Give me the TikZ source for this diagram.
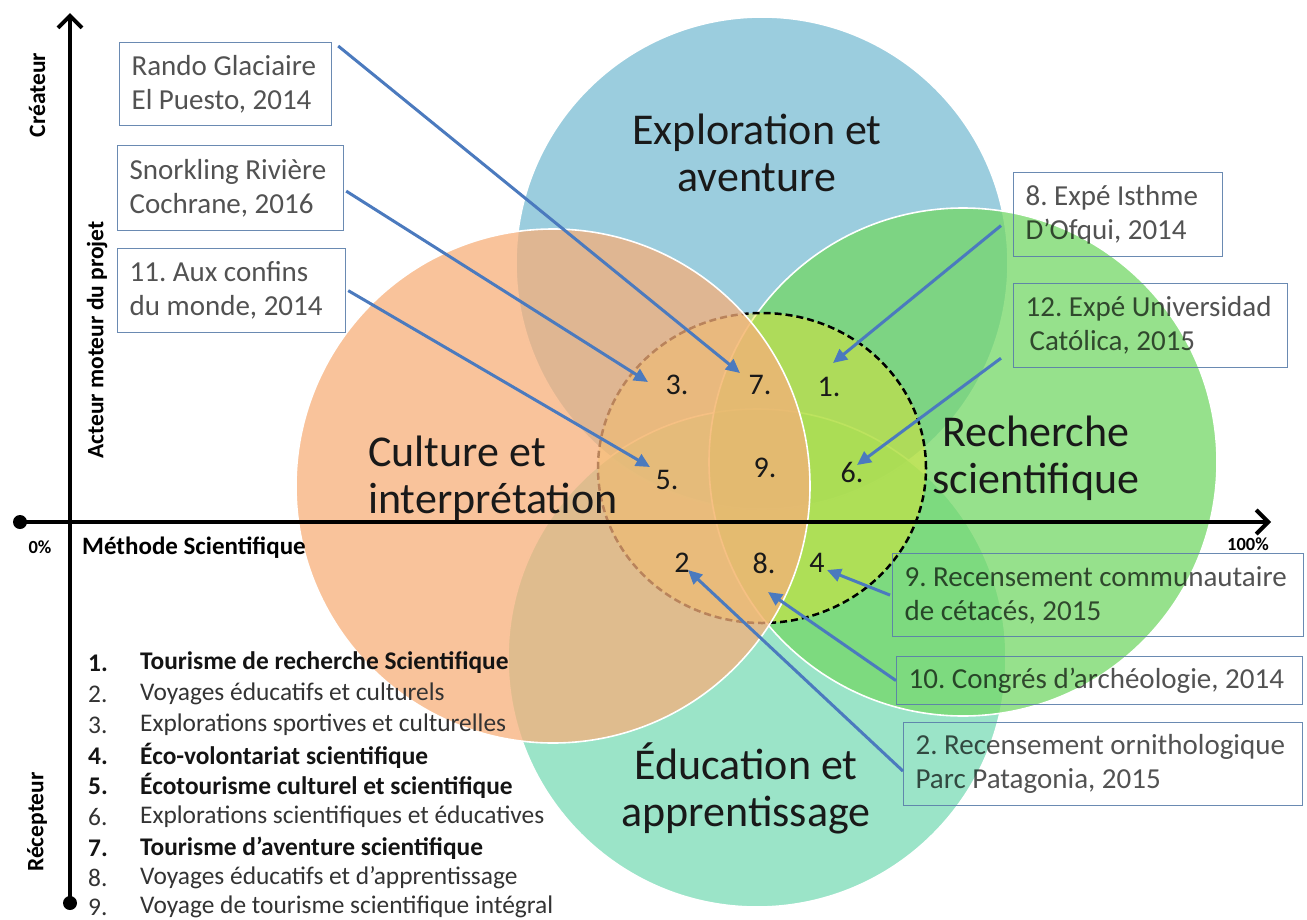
\documentclass[tikz,border=0pt]{standalone}
\usepackage{fontspec}
\setmainfont{Carlito}
\usetikzlibrary{arrows.meta}
\definecolor{cblue}{RGB}{121,188,211}
\definecolor{corange}{RGB}{247,175,122}
\definecolor{cgreen}{RGB}{115,215,102}
\definecolor{cteal}{RGB}{121,219,182}
\definecolor{cyel}{RGB}{235,230,40}
\definecolor{arrowblue}{RGB}{75,122,190}
\definecolor{boxline}{RGB}{90,125,170}
\frenchspacing
\begin{document}
\begin{tikzpicture}[x=1pt,y=-1pt,
  venn/.style={draw=white, line width=1.6pt, fill opacity=0.75},
  biglabel/.style={font=\fontsize{44}{47}\selectfont, text=black!90, inner sep=0pt},
  num/.style={font=\fontsize{30}{30}\selectfont, text=black!90, inner sep=0pt},
  box/.style={draw=boxline, draw opacity=0.9, line width=1.2pt, align=flush left,
    font=\frenchspacing\fontsize{29}{34}\selectfont, text=black, text opacity=0.68,
    inner xsep=12pt, inner ysep=0pt, anchor=north west},
  arr/.style={draw=arrowblue, line width=3pt, -{Triangle[length=14pt,width=13pt]}},
  axis/.style={line width=4pt, -{Straight Barb[length=12pt,width=24pt]}},
  axlabel/.style={font=\bfseries\fontsize{23.5}{24}\selectfont, inner sep=0pt},
  pctlabel/.style={font=\bfseries\fontsize{18.5}{19}\selectfont, inner sep=0pt},
  leg/.style={font=\frenchspacing\fontsize{25.4}{26}\selectfont, text=black!80, inner sep=0pt, anchor=west},
  legb/.style={leg, font=\frenchspacing\bfseries\fontsize{25.4}{26}\selectfont, text=black!92}
]
\useasboundingbox (0,0) rectangle (1307,919);

% circles
\filldraw[venn, fill=cblue] (762,263) circle[radius=246pt];
\filldraw[venn, fill=cteal] (757,658) circle[radius=249pt];
\filldraw[venn, fill=cgreen] (963,462) circle[radius=254pt];
\fill[cyel, fill opacity=0.45] (762,468) ellipse[x radius=164pt, y radius=155pt];
\draw[black, line width=2.5pt, dash pattern=on 7pt off 4pt] (762,468) ellipse[x radius=164pt, y radius=155pt];
\filldraw[venn, fill=corange] (553,486) circle[radius=257pt];

% axes
\fill (20,522) circle[radius=7pt];
\fill (70,903) circle[radius=7pt];
\coordinate (o1) at (20,522);
\coordinate (xend) at (1271,522);
\coordinate (o2) at (70,903);
\coordinate (yend) at (70,13);
\draw[axis] (o1) -- (xend);
\draw[axis] (o2) -- (yend);

\node[axlabel, rotate=90] (lcre) at (37,95) {Créateur};
\node[axlabel, rotate=90] (lact) at (97,340) {Acteur moteur du projet};
\node[axlabel, rotate=90] (lrec) at (37,822) {Récepteur};
\node[pctlabel] (l0) at (40,547) {0\%};
\node[axlabel, anchor=west, font=\bfseries\fontsize{25}{25}\selectfont] (lmet) at (82,548) {Méthode Scientifique};
\node[pctlabel] (l100) at (1248,544) {100\%};

% big labels
\node[biglabel, align=center] (explo) at (757,153) {Exploration et\\aventure};
\node[biglabel, align=left, anchor=west] (cult) at (368,478) {Culture et\\interprétation};
\node[biglabel, align=center] (rech) at (1036,458) {Recherche\\scientifique};
\node[biglabel, align=center] (educ) at (746,788) {Éducation et\\apprentissage};

% numbers
\node[num] (n3) at (677,385) {3.};
\node[num] (n7) at (760,385) {7.};
\node[num] (n1) at (829,387) {1.};
\node[num] (n5) at (667,480) {5.};
\node[num] (n9) at (765,468) {9.};
\node[num] (n6) at (852,472) {6.};
\node[num] (n2) at (682,563) {2};
\node[num] (n8) at (764,563) {8.};
\node[num] (n4) at (817,563) {4};

% boxes
\node[box, minimum width=212pt, minimum height=83pt, text width=188pt] (b1) at (119,42) {Rando Glaciaire\\El Puesto, 2014};
\node[box, minimum width=226pt, minimum height=85pt, text width=202pt] (b2) at (117,145) {Snorkling Rivière\\Cochrane, 2016};
\node[box, minimum width=228pt, minimum height=84pt, text width=204pt] (b3) at (117,248) {11. Aux confins\\du monde, 2014};
\node[box, minimum width=209pt, minimum height=84pt, text width=185pt] (b8) at (1013,172) {8. Expé Isthme\\D’Ofqui, 2014};
\node[box, minimum width=274pt, minimum height=84pt, text width=250pt] (b12) at (1013,283) {12. Expé Universidad\\\hspace*{4pt}Católica, 2015};
\node[box, minimum width=411pt, minimum height=83pt, text width=387pt] (b9) at (892,553) {9. Recensement communautaire\\de cétacés, 2015};
\node[box, minimum width=406pt, minimum height=48pt, text width=382pt] (b10) at (896,656) {10. Congrés d’archéologie, 2014};
\node[box, minimum width=399pt, minimum height=83pt, text width=375pt] (b2r) at (903,722) {2. Recensement ornithologique\\Parc Patagonia, 2015};

% arrow tips
\coordinate (t7) at (740,373);
\coordinate (t3) at (648,382);
\coordinate (t5) at (650,467);
\coordinate (t1) at (833,363);
\coordinate (t6) at (857,465);
\coordinate (t4) at (827,570);
\coordinate (t8) at (768,592);
\coordinate (t2) at (688,570);

\draw[arr] ([xshift=6pt,yshift=-4pt]b1.north east) -- (t7);
\draw[arr] ([xshift=2pt,yshift=-3pt]b2.east) -- (t3);
\draw[arr] ([xshift=2pt,yshift=0pt]b3.east) -- (t5);
\draw[arr] ([xshift=-12pt,yshift=-11pt]b8.west) -- (t1);
\draw[arr] ([xshift=-12pt,yshift=10pt]b12.south west) -- (t6);
\draw[arr] ([xshift=-2pt]b9.west) -- (t4);
\draw[arr] (b10.west) -- (t8);
\draw[arr] ([yshift=-7pt]b2r.west) -- (t2);

% legend
\node[legb] (k1n) at (88,663) {1.};
\node[legb] (k1) at (140,663) {Tourisme de recherche Scientifique};
\node[leg] (k2n) at (88,694) {2.};
\node[leg] (k2) at (140,694) {Voyages éducatifs et culturels};
\node[leg] (k3n) at (88,725) {3.};
\node[leg] (k3) at (140,725) {Explorations sportives et culturelles};
\node[legb] (k4n) at (88,756) {4.};
\node[legb] (k4) at (140,756) {Éco-volontariat scientifique};
\node[legb] (k5n) at (88,786) {5.};
\node[legb] (k5) at (140,786) {Écotourisme culturel et scientifique};
\node[leg] (k6n) at (88,817) {6.};
\node[leg] (k6) at (140,817) {Explorations scientifiques et éducatives};
\node[legb] (k7n) at (88,848) {7.};
\node[legb] (k7) at (140,848) {Tourisme d’aventure scientifique};
\node[leg] (k8n) at (88,878) {8.};
\node[leg] (k8) at (140,878) {Voyages éducatifs et d’apprentissage};
\node[leg] (k9n) at (88,907) {9.};
\node[leg] (k9) at (140,907) {Voyage de tourisme scientifique intégral};
\end{tikzpicture}
\end{document}
